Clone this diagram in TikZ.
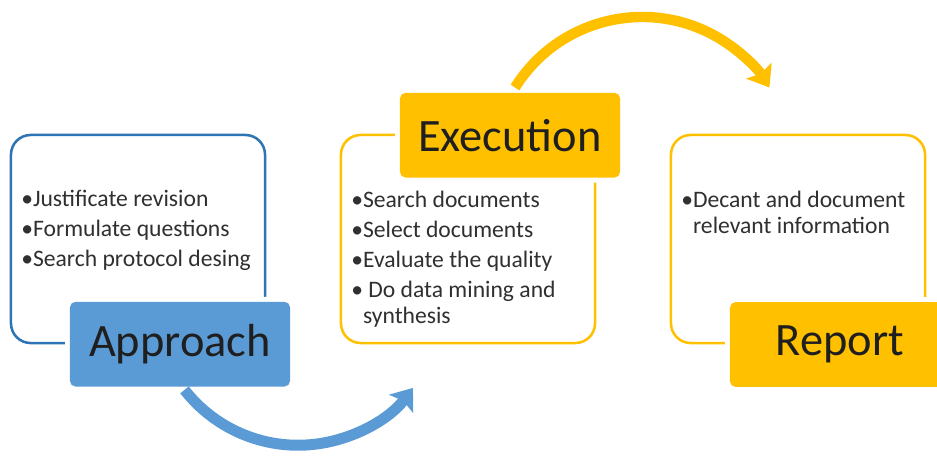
\documentclass[tikz,border=0pt]{standalone}
\usepackage{fontspec}
\setmainfont{Carlito}
\usetikzlibrary{arrows.meta,positioning}
\definecolor{stepblue}{HTML}{5B9BD5}
\definecolor{lineblue}{HTML}{2E75B6}
\definecolor{stepgold}{HTML}{FFC000}
\definecolor{textgray}{HTML}{303030}
\tikzset{
  frame/.style={draw=#1, fill=white, line width=1.8pt, rounded corners=14pt,
    minimum width=6.35cm, minimum height=5.2cm, inner sep=0pt},
  titlebox/.style={fill=#1, rounded corners=4pt, minimum width=5.5cm, minimum height=2.12cm,
    inner sep=0pt, text=black!88, font=\fontsize{33pt}{38pt}\selectfont,
    preaction={draw=white, line width=7pt}},
  bullets/.style={anchor=base west, align=left, inner sep=0pt, text=textgray,
    font=\fontsize{16.8pt}{18.5pt}\selectfont},
  flowarrow/.style={draw=#1, line width=7.8pt, -{Stealth[length=14pt,width=21pt,inset=2.5pt]}}
}
\newcommand\gap{\\[2.8pt]}

\begin{document}
\begin{tikzpicture}[x=0.025cm, y=-0.025cm]
        \useasboundingbox (0,0) rectangle (937,457);
        % The frames
        \node[frame=lineblue] (approachframe) at (138,239) {};
        \node[frame=stepgold] (executionframe) at (468,239) {};
        \node[frame=stepgold] (reportframe) at (798,239) {};

        % The bullet lists (placed by their last line)
        \node[bullets] (approachlist) at (21,266.7) {%
          •Justificate revision\gap
          •Formulate questions\gap
          •Search protocol desing};
        \node[bullets] (executionlist) at (351,323.3) {%
          •Search documents\gap
          •Select documents\gap
          •Evaluate the quality\gap
          • Do data mining and\\
          \hphantom{•}synthesis};
        \node[bullets] (reportlist) at (681,233.3) {%
          •Decant and document\\
          \hphantom{•}relevant information};

        % The titles
        \node[titlebox=stepblue] (approach) at (180,344.2) {Approach};
        \node[titlebox=stepgold] (execution) at (510,135.2) {Execution};
        \node[titlebox=stepgold] (report) at (840,344.5) {Report};

        % The arrows
        \draw[flowarrow=stepblue] (approach.south) ++(4.5,3) arc[start angle=142, end angle=37, radius=144];
        \draw[flowarrow=stepgold, line width=7.4pt] (execution.north) ++(5,-5) arc[start angle=-148, end angle=-32, radius=150];
    \end{tikzpicture}
\end{document}
